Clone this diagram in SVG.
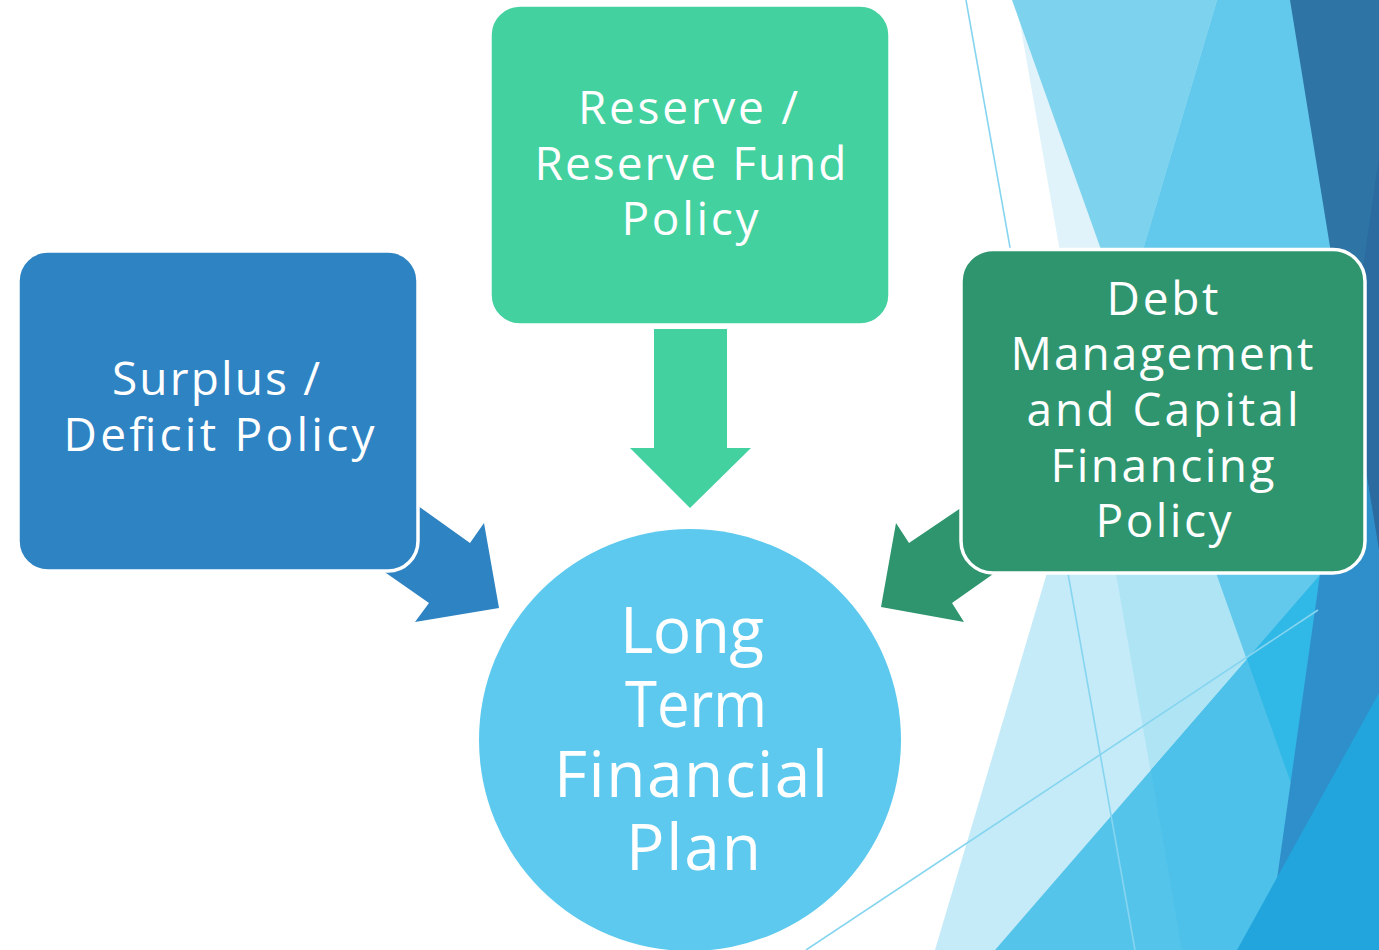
<svg xmlns="http://www.w3.org/2000/svg" width="1379" height="950" viewBox="0 0 1379 950">
  <style>
    .lbl { font-family: "Open Sans", "Noto Sans", sans-serif; fill: #ffffff; text-anchor: middle; }
    .box { font-size: 46px; }
    .big { font-size: 64px; }
    .facet-line { fill: none; stroke: #86D5F0; stroke-width: 1.6; }
    .node-shape { stroke: #ffffff; stroke-width: 3.5; }
  </style>

  <rect x="0" y="0" width="1379" height="950" fill="#ffffff"/>

  <!-- decorative facets on the right edge -->
  <g id="backdrop">
    <polygon points="1016,0 1379,0 1379,950 1182,950" fill="#E0F3FA"/>
    <polygon points="1217,0 1379,0 1379,950 935,950" fill="#C5EBF8"/>
    <polygon points="1217,0 1379,0 1379,950 1182,950 1090,426" fill="#AFE4F5"/>
    <polygon points="1012,0 1217,0 1124,314" fill="#7DD2EE"/>
    <polygon points="1217,0 1379,0 1379,950 1350,950 1124,314" fill="#63C9EC"/>
    <polygon points="1379,507 1379,950 995,950" fill="#55C4EA"/>
    <polygon points="1151,770 1182,950 1379,950 1379,507" fill="#4DC1E9"/>
    <polygon points="1320,575 1247,659 1291,783" fill="#30B8E6"/>
    <polygon points="1379,156 1379,950 1267,950" fill="#2E8FCB"/>
    <polygon points="1290,0 1379,0 1379,549" fill="#2E75A6"/>
    <polygon points="1379,156 1349,366 1379,549" fill="#2B6B9F"/>
    <polygon points="1379,693 1379,950 1237,950" fill="#22A5DC"/>
    <line class="facet-line" x1="966" y1="0" x2="1135" y2="950"/>
    <line class="facet-line" x1="806" y1="950" x2="1318" y2="610"/>
  </g>

  <!-- block arrows feeding the plan -->
  <g id="connectors">
    <polygon id="arrow-surplus" points="400,493 470,543 484,523 499,608 415,622 429,603 366,559" fill="#2E83C3"/>
    <polygon id="arrow-reserve" points="654,329 727,329 727,448 751,448 690,508 630,448 654,448" fill="#43D1A0"/>
    <polygon id="arrow-debt" points="980,495 909,543 896,523 881,607 964,622 952,603 1013,560" fill="#2E956E"/>
  </g>

  <g id="node-surplus">
    <rect class="node-shape" x="18" y="251" width="400" height="320" rx="30" fill="#2E83C3"/>
    <text class="lbl box" x="216" y="395" textLength="208" lengthAdjust="spacing">Surplus /</text>
    <text class="lbl box" x="219" y="451" textLength="311" lengthAdjust="spacing">Deficit Policy</text>
  </g>

  <g id="node-reserve">
    <rect class="node-shape" x="490" y="5" width="400" height="320" rx="30" fill="#43D1A0"/>
    <text class="lbl box" x="688" y="124" textLength="220" lengthAdjust="spacing">Reserve /</text>
    <text class="lbl box" x="690.5" y="180" textLength="312" lengthAdjust="spacing">Reserve Fund</text>
    <text class="lbl box" x="690" y="235" textLength="137" lengthAdjust="spacing">Policy</text>
  </g>

  <g id="node-debt">
    <rect class="node-shape" x="961" y="249.5" width="404" height="323.5" rx="32" fill="#2E956E"/>
    <text class="lbl box" x="1162.5" y="315" textLength="112" lengthAdjust="spacing">Debt</text>
    <text class="lbl box" x="1162" y="370" textLength="303" lengthAdjust="spacing">Management</text>
    <text class="lbl box" x="1162.5" y="426" textLength="272" lengthAdjust="spacing">and Capital</text>
    <text class="lbl box" x="1162.5" y="482" textLength="224" lengthAdjust="spacing">Financing</text>
    <text class="lbl box" x="1163.5" y="537" textLength="136" lengthAdjust="spacing">Policy</text>
  </g>

  <g id="node-plan">
    <circle cx="690" cy="740" r="211" fill="#5DC9EE"/>
    <text class="lbl big" x="692" y="653" textLength="144" lengthAdjust="spacing">Long</text>
    <text class="lbl big" x="696" y="727" textLength="142" lengthAdjust="spacingAndGlyphs">Term</text>
    <text class="lbl big" x="691" y="797" textLength="274" lengthAdjust="spacing">Financial</text>
    <text class="lbl big" x="693.5" y="870" textLength="135" lengthAdjust="spacing">Plan</text>
  </g>
</svg>
